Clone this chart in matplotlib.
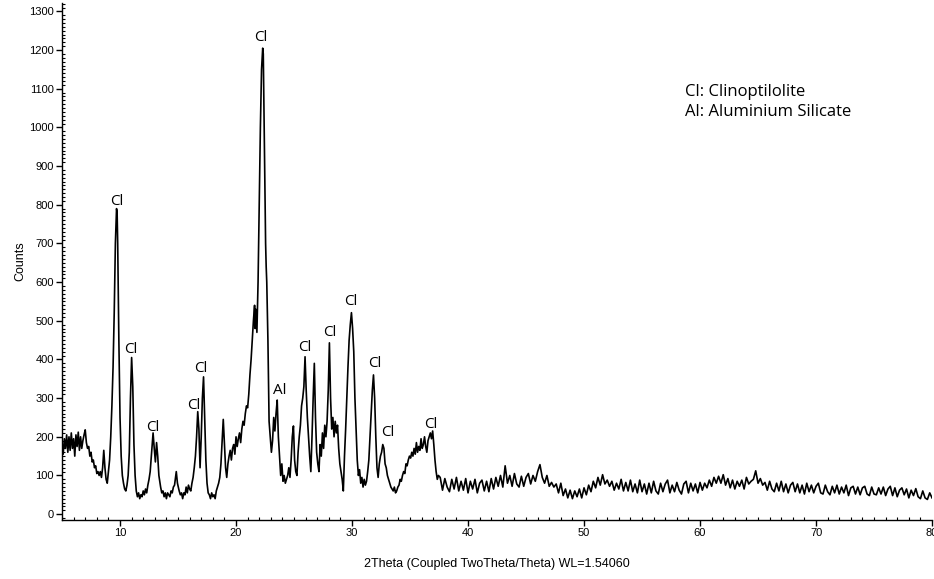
import numpy as np
import matplotlib
matplotlib.use("Agg")
import matplotlib.pyplot as plt
from matplotlib.ticker import MultipleLocator

# ---------- data ----------

# (2theta, counts) for the low-angle / main-peak region, 5-37.5 deg
peak_region = [
    (5.0, 185), (5.1, 155), (5.2, 195), (5.3, 170), (5.4, 205), (5.5, 160),
    (5.6, 200), (5.7, 165), (5.8, 210), (5.9, 170), (6.0, 195), (6.1, 150),
    (6.2, 205), (6.3, 175), (6.4, 212), (6.5, 165), (6.6, 200), (6.7, 170),
    (6.8, 190), (6.9, 205), (7.0, 218), (7.1, 185), (7.2, 170), (7.3, 175),
    (7.4, 150), (7.5, 160), (7.6, 135), (7.7, 140), (7.8, 120), (7.9, 125),
    (8.0, 105), (8.1, 110), (8.2, 100), (8.3, 110), (8.4, 95), (8.5, 120),
    (8.6, 165), (8.7, 120), (8.8, 90), (8.9, 80), (9.0, 110), (9.1, 140),
    (9.2, 200), (9.3, 280), (9.4, 380), (9.5, 520), (9.6, 700), (9.7, 790),
    (9.75, 780), (9.8, 700), (9.9, 450), (10.0, 250), (10.1, 150), (10.2, 100),
    (10.3, 80), (10.4, 65), (10.5, 60), (10.6, 75), (10.7, 100), (10.8, 160),
    (10.9, 300), (11.0, 405), (11.1, 330), (11.2, 180), (11.3, 100), (11.4, 60),
    (11.5, 45), (11.6, 55), (11.7, 40), (11.8, 50), (11.9, 45), (12.0, 60),
    (12.1, 50), (12.2, 65), (12.3, 55), (12.4, 75), (12.5, 90), (12.6, 110),
    (12.7, 150), (12.85, 210), (12.95, 170), (13.05, 135), (13.15, 185),
    (13.25, 150), (13.35, 100), (13.5, 70), (13.6, 55), (13.7, 60), (13.8, 45),
    (13.9, 55), (14.0, 40), (14.1, 55), (14.2, 50), (14.3, 45), (14.4, 60),
    (14.5, 55), (14.6, 70), (14.7, 75), (14.85, 110), (14.95, 80), (15.1, 60),
    (15.2, 50), (15.3, 55), (15.4, 40), (15.5, 55), (15.6, 50), (15.7, 70),
    (15.8, 55), (15.9, 75), (16.0, 65), (16.1, 60), (16.2, 80), (16.3, 95),
    (16.4, 120), (16.5, 150), (16.6, 200), (16.7, 265), (16.8, 220), (16.9, 120),
    (17.0, 200), (17.1, 300), (17.2, 355), (17.3, 250), (17.4, 140), (17.5, 80),
    (17.6, 55), (17.7, 50), (17.8, 40), (17.9, 55), (18.0, 45), (18.1, 50),
    (18.2, 40), (18.3, 60), (18.4, 70), (18.5, 80), (18.6, 95), (18.7, 130),
    (18.8, 190), (18.9, 245), (19.0, 180), (19.1, 120), (19.2, 95), (19.3, 130),
    (19.4, 150), (19.5, 165), (19.6, 140), (19.7, 170), (19.8, 180), (19.9, 155),
    (20.0, 200), (20.1, 175), (20.2, 195), (20.3, 210), (20.4, 185), (20.5, 220),
    (20.6, 240), (20.7, 230), (20.8, 260), (20.9, 280), (21.0, 275), (21.1, 310),
    (21.2, 360), (21.3, 400), (21.4, 450), (21.5, 500), (21.6, 540), (21.65, 480),
    (21.7, 530), (21.8, 470), (21.9, 600), (22.0, 800), (22.1, 1000),
    (22.2, 1150), (22.3, 1205), (22.35, 1190), (22.45, 950), (22.55, 700),
    (22.6, 640), (22.65, 600), (22.75, 450), (22.85, 240), (22.95, 200),
    (23.05, 160), (23.15, 190), (23.25, 250), (23.35, 215), (23.45, 260),
    (23.55, 295), (23.65, 200), (23.75, 150), (23.85, 100), (23.95, 130),
    (24.05, 85), (24.15, 100), (24.25, 80), (24.35, 90), (24.45, 100),
    (24.55, 120), (24.65, 95), (24.75, 140), (24.85, 200), (24.95, 228),
    (25.05, 140), (25.15, 110), (25.25, 100), (25.35, 160), (25.45, 200),
    (25.55, 230), (25.65, 280), (25.75, 300), (25.85, 330), (25.95, 407),
    (26.05, 320), (26.15, 250), (26.25, 200), (26.35, 150), (26.45, 110),
    (26.55, 200), (26.65, 300), (26.75, 390), (26.85, 250), (26.95, 160),
    (27.05, 130), (27.15, 110), (27.25, 180), (27.35, 150), (27.45, 210),
    (27.55, 170), (27.65, 230), (27.75, 200), (27.85, 240), (27.95, 320),
    (28.05, 443), (28.15, 300), (28.25, 220), (28.35, 250), (28.45, 200),
    (28.55, 240), (28.65, 210), (28.75, 230), (28.85, 170), (28.95, 130),
    (29.05, 110), (29.15, 90), (29.25, 60), (29.35, 150), (29.45, 220),
    (29.55, 300), (29.65, 380), (29.75, 450), (29.85, 490), (29.95, 521),
    (30.05, 480), (30.15, 420), (30.25, 300), (30.35, 220), (30.45, 140),
    (30.55, 100), (30.65, 115), (30.75, 80), (30.85, 95), (30.95, 70),
    (31.05, 90), (31.15, 75), (31.25, 85), (31.35, 110), (31.45, 140),
    (31.55, 200), (31.65, 260), (31.75, 320), (31.85, 360), (31.95, 300),
    (32.05, 200), (32.15, 120), (32.25, 95), (32.35, 130), (32.45, 150),
    (32.55, 160), (32.65, 180), (32.75, 170), (32.85, 130), (32.95, 120),
    (33.05, 100), (33.15, 90), (33.25, 80), (33.35, 70), (33.45, 65),
    (33.55, 60), (33.65, 70), (33.75, 55), (33.85, 60), (33.95, 70),
    (34.05, 75), (34.15, 90), (34.25, 85), (34.35, 100), (34.45, 110),
    (34.55, 105), (34.65, 130), (34.75, 125), (34.85, 140), (34.95, 150),
    (35.05, 145), (35.15, 160), (35.25, 150), (35.35, 170), (35.45, 155),
    (35.55, 185), (35.65, 160), (35.75, 175), (35.85, 165), (35.95, 195),
    (36.05, 170), (36.15, 180), (36.25, 200), (36.35, 175), (36.45, 160),
    (36.55, 190), (36.65, 200), (36.75, 210), (36.85, 195), (36.95, 215),
    (37.05, 180), (37.15, 140), (37.25, 110), (37.35, 90), (37.45, 100),
]

# high-angle tail, counts every 0.2 deg from 37.6 to 80.0
tail_start = 37.6
tail_step = 0.2
tail_counts = [
    95, 62, 92, 70, 58, 90, 65, 95, 60, 85,
    62, 92, 55, 85, 65, 90, 55, 80, 88, 60,
    85, 58, 92, 65, 95, 72, 100, 70, 125, 80,
    100, 72, 105, 78, 70, 98, 72, 95, 105, 78,
    100, 85, 110, 128, 95, 80, 100, 72, 82, 70,
    78, 55, 80, 48, 65, 42, 62, 40, 60, 45,
    65, 42, 68, 50, 75, 58, 85, 68, 95, 75,
    102, 78, 88, 72, 85, 62, 80, 65, 90, 60,
    82, 60, 88, 58, 78, 55, 88, 58, 78, 52,
    80, 55, 85, 60, 52, 80, 58, 78, 88, 55,
    75, 58, 82, 62, 52, 78, 85, 55, 80, 60,
    78, 55, 82, 62, 80, 68, 88, 72, 95, 80,
    98, 80, 102, 75, 92, 68, 88, 65, 85, 72,
    88, 65, 95, 78, 85, 90, 112, 80, 92, 75,
    82, 62, 85, 65, 58, 80, 60, 85, 58, 78,
    55, 75, 82, 58, 78, 55, 75, 52, 80, 58,
    75, 55, 72, 80, 55, 52, 75, 58, 50, 72,
    55, 75, 52, 70, 55, 75, 48, 68, 72, 52,
    70, 50, 68, 72, 52, 48, 70, 52, 50, 68,
    52, 70, 48, 65, 72, 48, 68, 45, 62, 68,
    50, 65, 42, 62, 48, 66, 45, 40, 60, 42,
    38, 55, 42,
]

# phase labels: (text, 2theta, counts)
peak_labels = [
    ("Cl", 9.74, 809), ("Cl", 10.95, 425), ("Cl", 12.84, 225),
    ("Cl", 16.4, 280), ("Cl", 17.0, 376), ("Cl", 22.16, 1233),
    ("Al", 23.8, 321), ("Cl", 25.95, 430), ("Cl", 28.1, 469),
    ("Cl", 29.9, 549), ("Cl", 32.0, 389), ("Cl", 33.1, 210),
    ("Cl", 36.8, 231),
]
legend_lines = ["Cl: Clinoptilolite", "Al: Aluminium Silicate"]

# ---------- assemble ----------
pk = np.array(peak_region, dtype=float)
tail_x = tail_start + tail_step * np.arange(len(tail_counts))
two_theta = np.concatenate([pk[:, 0], tail_x])
counts = np.concatenate([pk[:, 1], np.array(tail_counts, dtype=float)])

plt.rcParams["font.family"] = ["Liberation Sans", "DejaVu Sans"]
label_font = ["Open Sans", "DejaVu Sans"]

fig = plt.figure(figsize=(9.34, 5.79), dpi=100)
ax = fig.add_axes([0.0664, 0.102, 0.9315, 0.893])

ax.plot(two_theta, counts, color="black", lw=1.2)

ax.set_xlim(5, 80)
ax.set_ylim(-15, 1322)
ax.xaxis.set_major_locator(MultipleLocator(10))
ax.xaxis.set_minor_locator(MultipleLocator(1))
ax.yaxis.set_major_locator(MultipleLocator(100))
ax.yaxis.set_minor_locator(MultipleLocator(10))
ax.set_xticks([10, 20, 30, 40, 50, 60, 70, 80])
ax.tick_params(which="major", direction="out", length=4, width=1, labelsize=8, pad=2)
ax.tick_params(which="minor", direction="in", length=2.5, width=0.8)

for side in ("top", "right"):
    ax.spines[side].set_visible(False)
for side in ("left", "bottom"):
    ax.spines[side].set_linewidth(1.0)

ax.set_xlabel("2Theta (Coupled TwoTheta/Theta) WL=1.54060", fontsize=9, labelpad=14)
ax.set_ylabel("Counts", fontsize=9, labelpad=2)

for txt, xx, yy in peak_labels:
    ax.text(xx, yy, txt, ha="center", va="center", fontsize=11, family=label_font)

ax.text(0.716, 0.828, legend_lines[0], transform=ax.transAxes, fontsize=12,
        family=label_font, va="center")
ax.text(0.716, 0.789, legend_lines[1], transform=ax.transAxes, fontsize=12,
        family=label_font, va="center")

fig.savefig("out.png", dpi=100)
